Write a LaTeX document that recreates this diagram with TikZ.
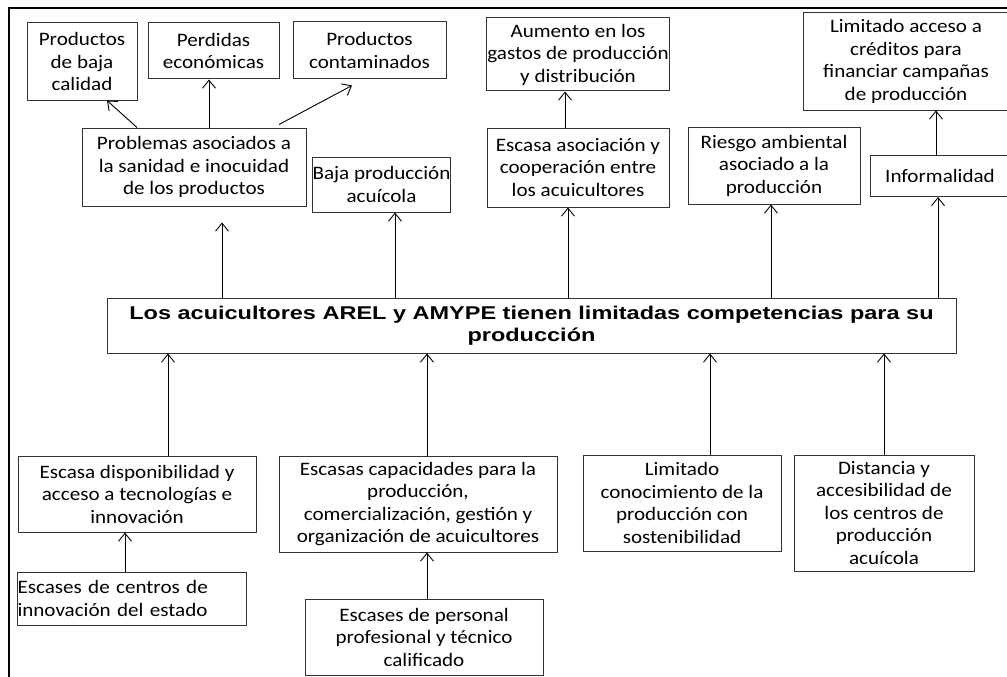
\documentclass[tikz,border=0pt]{standalone}
\usepackage{fontspec}
\setmainfont{Carlito}[FakeStretch=1.11]
\newfontfamily\arialfont{Liberation Sans}[FakeStretch=1.27]
\usetikzlibrary{arrows.meta}

\begin{document}
\begin{tikzpicture}[x=1pt,y=-1pt,->,>={Straight Barb[length=8pt,width=13pt]},line width=0.9pt]
		\tikzstyle{caja}=[draw=black!80,line width=1pt,align=center,inner sep=0.5pt,font=\fontsize{19}{22.5}\selectfont]
		\useasboundingbox (0,0) rectangle (1007,677);

		% marco
		\draw[-,line width=2pt] (9,677) -- (9,8) -- (1010,8);

		% efectos
		\node[caja,minimum width=110pt,minimum height=77pt](baja) at (82,61.5){Productos\\de baja\\calidad};
		\node[caja,minimum width=131pt,minimum height=56pt](perdidas) at (213.5,51){Perdidas\\económicas};
		\node[caja,minimum width=153pt,minimum height=57pt](contam) at (369.5,50.5){Productos\\contaminados};
		\node[caja,minimum width=182pt,minimum height=73pt](aumento) at (578,54.5){Aumento en los\\gastos de producción\\y distribución};
		\node[caja,minimum width=206pt,minimum height=97pt](credito) at (906,61.5){Limitado acceso a\\créditos para\\financiar campañas\\de producción};

		\node[caja,minimum width=224pt,minimum height=78pt](problemas) at (194,167){Problemas asociados a\\la sanidad e inocuidad\\de los productos};
		\node[caja,minimum width=127pt,minimum height=55pt](bajaprod) at (381.5,184.5){Baja producción\\acuícola};
		\node[caja,minimum width=182pt,minimum height=79pt](escasaasoc) at (578,167.5){Escasa asociación y\\cooperación entre\\los acuicultores};
		\node[caja,minimum width=172pt,minimum height=77pt](riesgo) at (774,165.5){Riesgo ambiental\\asociado a la\\producción};
		\node[caja,minimum width=140pt,minimum height=41pt](informal) at (940,176){Informalidad};

		% problema central
		\node[caja,minimum width=849pt,minimum height=55pt,font=\arialfont\bfseries\fontsize{18.5}{22.5}\selectfont](central) at (531.5,325.5){Los acuicultores AREL y AMYPE tienen limitadas competencias para su\\producción};

		% causas
		\node[caja,minimum width=238pt,minimum height=76pt](disp) at (137,494){Escasa disponibilidad y\\acceso a tecnologías e\\innovación};
		\node[caja,text width=228pt,minimum height=53pt,align=left](centros) at (131.5,598.5){Escases de centros de\\innovación del estado};
		\node[caja,minimum width=278pt,minimum height=96pt](capac) at (418,504){Escasas capacidades para la\\producción,\\comercialización, gestión y\\organización de acuicultores};
		\node[caja,minimum width=238pt,minimum height=76pt](personal) at (424,637){Escases de personal\\profesional y técnico\\calificado};
		\node[caja,minimum width=198pt,minimum height=96pt](limitconoc) at (682,503){Limitado\\conocimiento de la\\producción con\\sostenibilidad};
		\node[caja,minimum width=180pt,minimum height=116pt](distancia) at (884,513){Distancia y\\accesibilidad de\\los centros de\\producción\\acuícola};

		% flechas de efectos
		\draw ([xshift=-57pt]problemas.north) -- ([xshift=25pt]baja.south);
		\draw ([xshift=15pt]problemas.north) -- ([xshift=-4.5pt]perdidas.south);
		\draw ([xshift=85pt,yshift=3pt]problemas.north) -- ([xshift=-17.5pt,yshift=-6pt]contam.south);
		\draw ([xshift=-13pt]escasaasoc.north) -- ([xshift=-13pt]aumento.south);
		\draw ([xshift=-4pt]informal.north) -- ([xshift=30pt]credito.south);

		\draw ([xshift=-309.5pt]central.north) -- ([xshift=28pt,yshift=-16pt]problemas.south);
		\draw ([xshift=-136.5pt]central.north) -- ([xshift=13.5pt]bajaprod.south);
		\draw ([xshift=36.5pt]central.north) -- ([xshift=-10pt]escasaasoc.south);
		\draw ([xshift=239.5pt]central.north) -- ([xshift=-3pt]riesgo.south);
		\draw ([xshift=406.5pt]central.north) -- ([xshift=-2pt]informal.south);

		% flechas de causas
		\draw ([xshift=31pt]disp.north) -- ([xshift=-363.5pt]central.south);
		\draw ([xshift=9pt]capac.north) -- ([xshift=-104.5pt]central.south);
		\draw ([xshift=28pt]limitconoc.north) -- ([xshift=178.5pt]central.south);
		\draw (distancia.north) -- ([xshift=352.5pt]central.south);
		\draw ([xshift=-6.5pt]centros.north) -- ([xshift=-12pt]disp.south);
		\draw ([xshift=3pt]personal.north) -- ([xshift=9pt]capac.south);
	\end{tikzpicture}
\end{document}
